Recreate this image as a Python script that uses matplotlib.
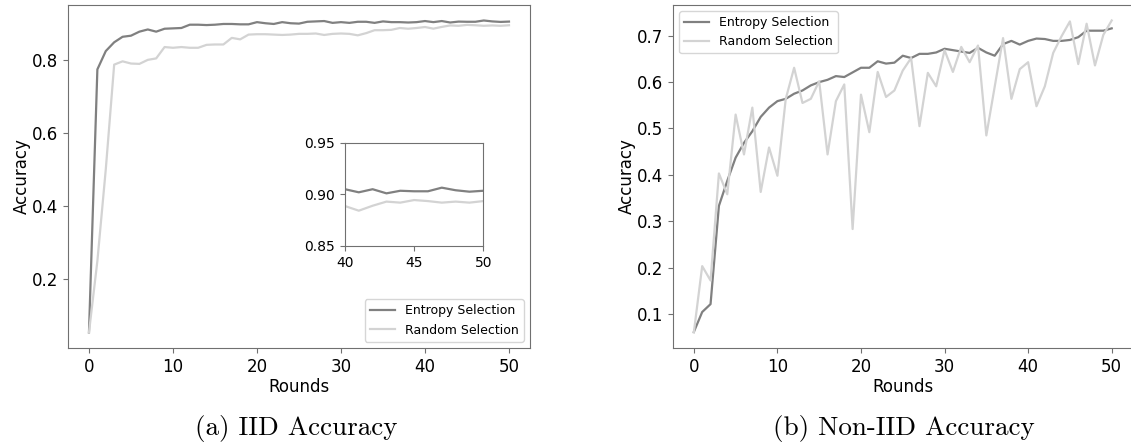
import numpy as np
import matplotlib
matplotlib.use("Agg")
import matplotlib.pyplot as plt

rounds = list(range(51))

iid_entropy = [0.055, 0.773, 0.823, 0.847, 0.862, 0.865, 0.876, 0.882, 0.876, 0.884,
               0.885, 0.886, 0.895, 0.895, 0.894, 0.895, 0.897, 0.897, 0.896, 0.896,
               0.902, 0.899, 0.897, 0.902, 0.899, 0.898, 0.903, 0.904, 0.905, 0.900,
               0.902, 0.900, 0.903, 0.903, 0.900, 0.904, 0.902, 0.902, 0.901, 0.902,
               0.905, 0.902, 0.905, 0.901, 0.9035, 0.903, 0.903, 0.9065, 0.904, 0.9026,
               0.9035]
iid_random = [0.055, 0.25, 0.50, 0.786, 0.795, 0.789, 0.788, 0.799, 0.803, 0.834,
              0.832, 0.834, 0.832, 0.832, 0.840, 0.841, 0.841, 0.859, 0.855, 0.868,
              0.869, 0.869, 0.868, 0.867, 0.868, 0.870, 0.870, 0.871, 0.867, 0.870,
              0.871, 0.870, 0.866, 0.872, 0.880, 0.880, 0.881, 0.886, 0.884, 0.886,
              0.8887, 0.8842, 0.889, 0.893, 0.892, 0.8945, 0.8935, 0.892, 0.893, 0.892,
              0.8935]

noniid_entropy = [0.061, 0.104, 0.121, 0.333, 0.387, 0.437, 0.469, 0.494, 0.525, 0.545,
                  0.559, 0.564, 0.575, 0.582, 0.593, 0.600, 0.605, 0.613, 0.611, 0.621,
                  0.631, 0.631, 0.645, 0.640, 0.642, 0.657, 0.652, 0.661, 0.661, 0.664,
                  0.672, 0.669, 0.666, 0.663, 0.674, 0.664, 0.657, 0.682, 0.689, 0.681,
                  0.689, 0.694, 0.693, 0.689, 0.689, 0.691, 0.697, 0.711, 0.711, 0.711,
                  0.716]
noniid_random = [0.060, 0.203, 0.172, 0.403, 0.358, 0.530, 0.444, 0.545, 0.363, 0.459,
                 0.398, 0.564, 0.631, 0.555, 0.564, 0.602, 0.444, 0.559, 0.595, 0.283,
                 0.573, 0.492, 0.622, 0.568, 0.582, 0.625, 0.652, 0.505, 0.620, 0.591,
                 0.669, 0.622, 0.676, 0.643, 0.679, 0.485, 0.590, 0.695, 0.564, 0.628,
                 0.643, 0.548, 0.591, 0.663, 0.699, 0.731, 0.639, 0.726, 0.636, 0.702,
                 0.733]

series_labels = ["Entropy Selection", "Random Selection"]
captions = ["(a) IID Accuracy", "(b) Non-IID Accuracy"]

c_ent = "#808080"
c_rand = "#d3d3d3"
spine_c = "#707070"

fig = plt.figure(figsize=(11.31, 4.45), dpi=100)

def style(ax, fs=12):
    for s in ax.spines.values():
        s.set_color(spine_c)
    ax.tick_params(colors=spine_c, labelcolor="black", labelsize=fs)

ax1 = fig.add_axes([0.0601, 0.218, 0.4085, 0.771])
ax1.plot(rounds, iid_entropy, color=c_ent, lw=1.6, label=series_labels[0])
ax1.plot(rounds, iid_random, color=c_rand, lw=1.6, label=series_labels[1])
ax1.set_yticks([0.2, 0.4, 0.6, 0.8])
ax1.set_xticks([0, 10, 20, 30, 40, 50])
ax1.set_xlabel("Rounds", fontsize=12, labelpad=2)
ax1.set_ylabel("Accuracy", fontsize=12, labelpad=1)
style(ax1)
ax1.legend(loc="lower right", fontsize=9)

axin = fig.add_axes([0.305, 0.4472, 0.1223, 0.232])
axin.plot(rounds, iid_entropy, color=c_ent, lw=1.6)
axin.plot(rounds, iid_random, color=c_rand, lw=1.6)
axin.set_xlim(40, 50)
axin.set_ylim(0.85, 0.95)
axin.set_xticks([40, 45, 50])
axin.set_yticks([0.85, 0.90, 0.95])
axin.set_yticklabels(["0.85", "0.90", "0.95"])
style(axin, fs=10)

ax2 = fig.add_axes([0.595, 0.218, 0.4064, 0.771])
ax2.plot(rounds, noniid_entropy, color=c_ent, lw=1.6, label=series_labels[0])
ax2.plot(rounds, noniid_random, color=c_rand, lw=1.6, label=series_labels[1])
ax2.set_xticks([0, 10, 20, 30, 40, 50])
ax2.set_xlabel("Rounds", fontsize=12, labelpad=2)
ax2.set_ylabel("Accuracy", fontsize=12, labelpad=1)
style(ax2)
ax2.legend(loc="upper left", fontsize=9)

fig.text(0.262, 0.038, captions[0], family="cmr10", fontsize=19.5, ha="center", va="center")
fig.text(0.799, 0.038, captions[1], family="cmr10", fontsize=19.5, ha="center", va="center")

fig.savefig("out.png", dpi=100)
